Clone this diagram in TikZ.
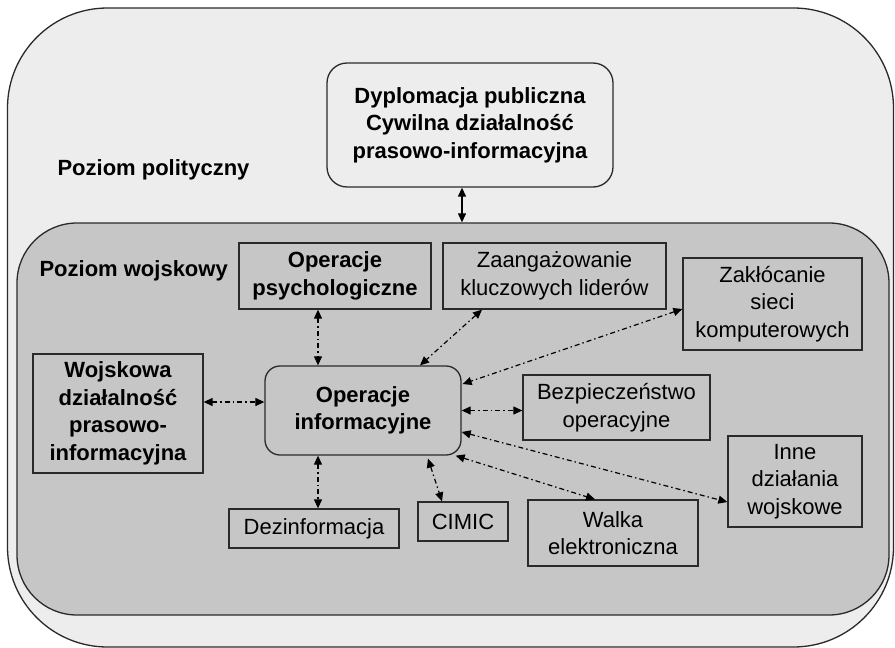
\documentclass[tikz,border=0pt]{standalone}
\usepackage{fontspec}
\setmainfont{Liberation Sans}
\usetikzlibrary{arrows.meta,calc}
\definecolor{polfill}{HTML}{EDEDED}
\definecolor{milfill}{HTML}{C6C6C6}
\definecolor{edge}{HTML}{2A2A2A}
\tikzset{
  every node/.style={font=\fontsize{22}{27.5}\selectfont},
  box/.style={draw=edge, line width=1.3pt, fill=milfill, align=center, inner sep=0pt},
  boldbox/.style={box, font=\fontsize{22}{27.5}\selectfont\bfseries},
  level/.style={draw=edge, line width=1.3pt, inner sep=0pt},
  conn/.style={<->, >={Triangle[length=9pt,width=8pt]}, line width=1.2pt, black,
    dash pattern=on 5pt off 3pt on 1.5pt off 3pt},
  solidconn/.style={<->, >={Triangle[length=9pt,width=8pt]}, line width=1.2pt, black},
  lbl/.style={anchor=west, font=\fontsize{22}{27.5}\selectfont\bfseries},
}
\begin{document}
\begin{tikzpicture}[x=1pt,y=-1pt]
\useasboundingbox (0,0) rectangle (895,648);
% levels
\node[level, fill=polfill, rounded corners=100pt, minimum width=886pt, minimum height=639pt] (pol) at (450.5,327.5) {};
\node[level, fill=milfill, rounded corners=60pt, minimum width=872pt, minimum height=392pt] (mil) at (453,419) {};
\node[lbl] (lpol) at (54,170) {Poziom polityczny};
\node[lbl] (lmil) at (36,271) {Poziom wojskowy};
% nodes
\node[boldbox, fill=polfill, rounded corners=20pt, minimum width=286pt, minimum height=124pt] (top) at (470,125) {Dyplomacja publiczna\\Cywilna działalność\\prasowo-informacyjna};
\node[boldbox, minimum width=192pt, minimum height=66pt] (psych) at (335,276) {Operacje\\psychologiczne};
\node[box, minimum width=223pt, minimum height=66pt] (zaang) at (554.5,276) {Zaangażowanie\\kluczowych liderów};
\node[box, minimum width=179pt, minimum height=92pt] (zakl) at (772.5,304) {Zakłócanie\\sieci\\komputerowych};
\node[boldbox, minimum width=170pt, minimum height=119pt] (wojsk) at (118,413.5) {Wojskowa\\działalność\\prasowo-\\informacyjna};
\node[boldbox, rounded corners=15pt, minimum width=196pt, minimum height=89pt] (oi) at (363,410.5) {Operacje\\informacyjne};
\node[box, minimum width=187pt, minimum height=65pt] (bezp) at (616.5,407.5) {Bezpieczeństwo\\operacyjne};
\node[box, minimum width=134pt, minimum height=91pt] (inne) at (795,481.5) {Inne\\działania\\wojskowe};
\node[box, minimum width=170pt, minimum height=39pt] (dez) at (314,528.5) {Dezinformacja};
\node[box, minimum width=90pt, minimum height=39pt] (cimic) at (463,521.5) {CIMIC};
\node[box, minimum width=170pt, minimum height=66pt] (walka) at (613,533) {Walka\\elektroniczna};
% connectors
\draw[solidconn] ([xshift=-8pt]top.south) -- ([xshift=-8pt]top.south |- mil.north);
\draw[conn] ([xshift=-17pt]psych.south) -- ([xshift=-17pt]psych.south |- oi.north);
\draw[conn] ([xshift=-72.5pt]zaang.south) -- ([xshift=57pt]oi.north);
\draw[conn] ([yshift=-5pt]zakl.west) -- ([yshift=26.5pt,xshift=1pt]oi.east);
\draw[conn] (oi.east) -- (oi.east -| bezp.west);
\draw[conn] ([yshift=-21.5pt]oi.east) -- ([yshift=-20.5pt]inne.west);
\draw[conn] ([xshift=-6pt]oi.south east) -- ([xshift=-18pt]walka.north);
\draw[conn] ([xshift=65pt,yshift=-3pt]oi.south) -- ([xshift=-21pt]cimic.north);
\draw[conn] ([xshift=-45pt]oi.south) -- ([xshift=-45pt]oi.south |- dez.north);
\draw[conn] ([yshift=11.5pt]wojsk.east) -- ([yshift=11.5pt]wojsk.east -| oi.west);
\end{tikzpicture}
\end{document}
